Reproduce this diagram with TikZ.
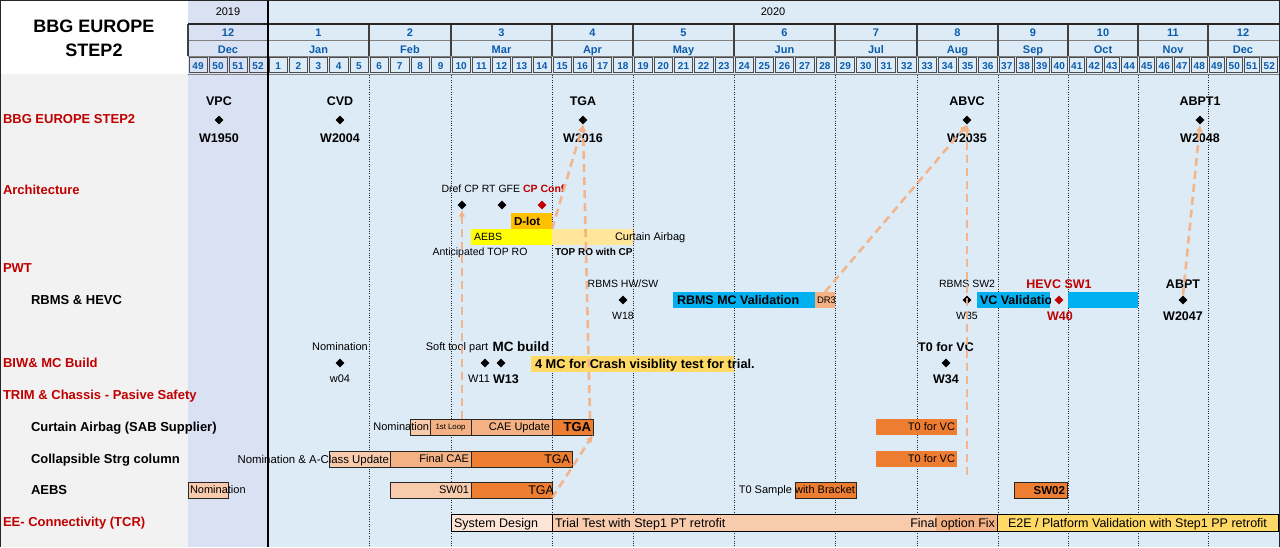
\documentclass[tikz,border=0pt]{standalone}
\usepackage{fontspec}
\setmainfont{Liberation Sans}
\usetikzlibrary{shapes.geometric,arrows.meta,calc}
\definecolor{secred}{HTML}{C00000}
\definecolor{hblue}{HTML}{0B5CAD}
\definecolor{bgtw}{HTML}{DDEBF7}
\definecolor{bgnt}{HTML}{D9E1F2}
\definecolor{leftbg}{HTML}{F2F2F2}
\definecolor{odark}{HTML}{ED7D31}
\definecolor{omid}{HTML}{F4B183}
\definecolor{olight}{HTML}{F8CBAD}
\definecolor{ovlight}{HTML}{FCE4D6}
\definecolor{gold}{HTML}{FFC000}
\definecolor{ylw}{HTML}{FFFF00}
\definecolor{lylw}{HTML}{FFE699}
\definecolor{yorange}{HTML}{FFD966}
\definecolor{cyanbar}{HTML}{00B0F0}
\definecolor{conncol}{HTML}{F4B183}
\newcommand\bx[6]{\node[gbox,#6,minimum width={(#3-#2)*1pt},minimum height={(#5-#4)*1pt}] (#1) at ({(#2+#3)/2},{(#4+#5)/2}) {};}
\begin{document}
\begin{tikzpicture}[x=1pt,y=-1pt,
  fa/.style={inner sep=0pt, outer sep=0pt, text depth=0pt},
  t10/.style={fa, font=\fontsize{10.5}{12}\selectfont, text height=7.5pt},
  t11/.style={fa, font=\fontsize{11}{13}\selectfont, text height=7.9pt},
  t12/.style={fa, font=\fontsize{12.5}{14}\selectfont, text height=9pt},
  b11/.style={fa, font=\fontsize{11.5}{13}\selectfont\bfseries, text height=8.2pt},
  b12/.style={fa, font=\fontsize{12.5}{14}\selectfont\bfseries, text height=9pt},
  b13/.style={fa, font=\fontsize{13}{15}\selectfont\bfseries, text height=9.3pt},
  sec/.style={b13, anchor=west, text=secred},
  sub/.style={b13, anchor=west},
  hd/.style={fa, font=\fontsize{11}{13}\selectfont\bfseries, text=hblue, text height=7.9pt},
  wkt/.style={fa, font=\fontsize{10}{12}\selectfont\bfseries, text=hblue, text height=7.2pt},
  dia/.style={diamond, fill=black, inner sep=0pt, minimum size=9pt},
  gbox/.style={inner sep=0pt, outer sep=0pt},
  bord/.style={draw=black!85, line width=0.7pt},
  conn/.style={draw=conncol, draw opacity=0.92, line width=2.6pt, dash pattern=on 8pt off 5pt, -{Latex[length=7pt,width=7pt]}},
  dotl/.style={black!85, line width=0.7pt, dash pattern=on 0.8pt off 1.6pt}]
\useasboundingbox (0,0) rectangle (1280,547);
% backgrounds
\fill[white] (0,0) rectangle (1280,547);
\fill[leftbg] (0,74) rectangle (188,547);
\fill[bgnt] (188,0) rectangle (268,547);
\fill[bgtw] (268,0) rectangle (1280,547);
% title
\node[fa, font=\fontsize{18}{20}\selectfont\bfseries, text height=12.9pt] (title1) at (94,26) {BBG EUROPE};
\node[fa, font=\fontsize{18}{20}\selectfont\bfseries, text height=12.9pt] (title2) at (94,50.5) {STEP2};
% header
\node[t11] (ynt) at (228,12) {2019};
\node[t11] (ytw) at (773,12) {2020};
\draw[black!50, line width=1pt] (188,40) -- (1279,40);
\draw[black!50, line width=1pt] (188,56) -- (1279,56);
\draw[black!50, line width=0.8pt] (188,74) -- (1279,74);
\foreach \a/\b/\n/\f/\m/\nm in {188/268/4/49/12/Dec, 268/369/5/1/1/Jan, 369/451/4/6/2/Feb, 451/552/5/10/3/Mar, 552/633/4/15/4/Apr, 633/734/5/19/5/May, 734/835/5/24/6/Jun, 835/917/4/29/7/Jul, 917/998/4/33/8/Aug, 998/1068/4/37/9/Sep, 1068/1138/4/41/10/Oct, 1138/1208/4/45/11/Nov, 1208/1278/4/49/12/Dec}{
  \draw[black!75, line width=1.2pt] (\a,24) -- (\a,56);
  \node[hd] (mn\a) at ({(\a+\b)/2},33) {\m};
  \node[hd] (mm\a) at ({(\a+\b)/2},49.5) {\nm};
  \pgfmathsetmacro\w{(\b-\a)/\n}
  \foreach \k in {1,...,\n}{
    \pgfmathsetmacro\xa{\a+(\k-1)*\w}
    \pgfmathtruncatemacro\wk{\f+\k-1}
    \draw[black!70, line width=0.6pt] ({\xa+1},57.5) rectangle ({\xa+\w-1},72.5);
    \node[wkt] (wk\a-\k) at ({\xa+\w/2},65.5) {\wk};
  }
}
\draw[black!85, line width=1.5pt] (188,24) -- (1279,24);
\draw[black, line width=2pt] (268,0) -- (268,547);
% dotted month lines
\foreach \x in {369,451,552,633,734,835,917,998,1068,1138,1208} \draw[dotl] (\x,75) -- (\x,547);
% left labels
\node[sec] (lBBG) at (3,119) {BBG EUROPE STEP2};
\node[sec] (lArch) at (3,190) {Architecture};
\node[sec] (lPWT) at (3,268) {PWT};
\node[sub] (lRBMS) at (31,300) {RBMS \& HEVC};
\node[sec] (lBIW) at (3,363) {BIW\& MC Build};
\node[sec] (lTRIM) at (3,395) {TRIM \& Chassis - Pasive Safety};
\node[sub] (lCAB) at (31,427) {Curtain Airbag (SAB Supplier)};
\node[sub] (lCol) at (31,459) {Collapsible Strg column};
\node[sub] (lAEBS) at (31,490) {AEBS};
\node[sec] (lEE) at (3,522) {EE- Connectivity (TCR)};
% BBG milestones
\foreach \nm/\x/\tp/\bt in {vpc/219/VPC/W1950, cvd/340/CVD/W2004, tga/583/TGA/W2016, abvc/967/ABVC/W2035, abpto/1200/ABPT1/W2048}{
  \node[b12] (\nm-t) at (\x,101) {\tp};
  \node[dia] (\nm-d) at (\x,120) {};
  \node[b12] (\nm-b) at (\x,138) {\bt};
}
% Architecture
\node[t10] (archTxt) at (503,189) {Dref CP RT GFE \textcolor{secred}{\bfseries CP Conf}};
\node[dia] (dref) at (462,205) {};
\node[dia] (rtgfe) at (502,205) {};
\node[dia, fill=secred] (cpconf) at (542,205) {};
\bx{dlot}{511}{552}{213}{229}{fill=gold}
\node[b11, anchor=west] (dlotT) at (514,221) {D-lot};
\bx{archAEBS}{471}{552}{229}{245}{fill=ylw}
\node[t10, anchor=west] (archAEBSt) at (474,237) {AEBS};
\bx{archCAB}{552}{633}{229}{245}{fill=lylw}
\node[t11, anchor=west] (archCABt) at (615,237) {Curtain Airbag};
\node[t10] (antTop) at (480,252) {Anticipated TOP RO};
\node[fa, font=\fontsize{10}{12}\selectfont\bfseries, text height=7.2pt, anchor=west] (topCP) at (555,252) {TOP RO with CP};
% RBMS & HEVC
\node[t10] (rbmsHWt) at (623,284) {RBMS HW/SW};
\node[dia] (rbmsHW) at (623,300) {};
\node[t10] (wEighteen) at (623,316) {W18};
\bx{rbmsMC}{673}{815}{292}{308}{fill=cyanbar}
\node[b12, anchor=west] (rbmsMCt) at (677,300) {RBMS MC Validation};
\bx{dr3}{815}{835}{292}{308}{fill=omid}
\node[fa, font=\fontsize{9.5}{11}\selectfont, text height=6.8pt, anchor=west] (dr3t) at (817,300) {DR3};
\node[t10] (rbmsSW2t) at (967,284) {RBMS  SW2};
\node[dia] (rbmsSW2) at (967,300) {};
\node[t10] (wThirtyFive) at (967,316) {W35};
\bx{vcBar}{977}{1050}{292}{308}{fill=cyanbar}
\begin{scope}
\clip (977,292) rectangle (1050,308);
\node[b12, anchor=west] (vcBarT) at (980,300) {VC Validation};
\end{scope}
\node[b12, text=secred] (hevcT) at (1059,284) {HEVC SW1};
\node[dia, fill=secred] (hevc) at (1059,300) {};
\node[b12, text=secred] (wForty) at (1060,316) {W40};
\bx{vcBarTwo}{1068}{1138}{292}{308}{fill=cyanbar}
\node[b12] (abptT) at (1183,284) {ABPT};
\node[dia] (abpt) at (1183,300) {};
\node[b12] (abptB) at (1183,316) {W2047};
% BIW & MC build
\node[t11] (nomT) at (340,347) {Nomination};
\node[dia] (nomD) at (340,363) {};
\node[t11] (wFour) at (340,379) {w04};
\node[t11] (softT) at (457,347) {Soft tool part};
\node[fa, font=\fontsize{13.5}{15}\selectfont\bfseries, text height=9.7pt] (mcbT) at (521,347) {MC build};
\node[dia] (softD) at (485,363) {};
\node[dia] (mcbD) at (501,363) {};
\node[t11] (wEleven) at (479,379) {W11};
\node[b12] (wThirteen) at (506,379) {W13};
\bx{mcBar}{531}{734}{356}{372}{fill=yorange}
\node[fa, font=\fontsize{12.8}{14}\selectfont\bfseries, text height=9.2pt, anchor=west] (mcBarT) at (535,364) {4 MC for Crash visiblity test for trial.};
\node[b12] (tzvcT) at (946,347) {T0 for VC};
\node[dia] (tzvcD) at (946,363) {};
\node[b12] (wThirtyFour) at (946,379) {W34};
% Curtain Airbag
\bx{cabNom}{410}{430}{419}{435}{fill=olight,bord}
\node[t11, anchor=east] (cabNomT) at (429,427) {Nomination};
\bx{cabLoop}{430}{471}{419}{435}{fill=omid,bord}
\node[fa, font=\fontsize{7.8}{9}\selectfont, text height=5.6pt] (cabLoopT) at (cabLoop) {1st Loop};
\bx{cabCAE}{471}{552}{419}{435}{fill=omid,bord}
\node[t11, anchor=east] (cabCAET) at ([xshift=-2pt]cabCAE.east) {CAE Update};
\bx{cabTGA}{552}{593}{419}{435}{fill=odark,bord}
\node[b13, anchor=east] (cabTGAT) at ([xshift=-2pt]cabTGA.east) {TGA};
\bx{cabTz}{876}{957}{419}{435}{fill=odark}
\node[t11, anchor=east] (cabTzT) at ([xshift=-2pt]cabTz.east) {T0 for VC};
% Collapsible
\bx{colNom}{329}{390}{451}{467}{fill=olight,bord}
\node[fa, font=\fontsize{11.4}{13}\selectfont, text height=8.2pt, anchor=east] (colNomT) at (389,459) {Nomination \& A-Class Update};
\bx{colCAE}{390}{471}{451}{467}{fill=omid,bord}
\node[t11, anchor=east] (colCAET) at ([xshift=-2pt]colCAE.east) {Final CAE};
\bx{colTGA}{471}{572}{451}{467}{fill=odark,bord}
\node[t12, anchor=east] (colTGAT) at ([xshift=-2pt]colTGA.east) {TGA};
\bx{colTz}{876}{957}{451}{467}{fill=odark}
\node[t11, anchor=east] (colTzT) at ([xshift=-2pt]colTz.east) {T0 for VC};
% AEBS
\bx{aebsNom}{188}{228}{482}{498}{fill=olight,bord}
\node[t11, anchor=west] (aebsNomT) at (190,490) {Nomination};
\bx{aebsSW}{390}{471}{482}{498}{fill=olight,bord}
\node[t11, anchor=east] (aebsSWT) at ([xshift=-2pt]aebsSW.east) {SW01};
\bx{aebsTGA}{471}{552}{482}{498}{fill=odark,bord}
\node[t12, anchor=east] (aebsTGAT) at ([xshift=2pt]aebsTGA.east) {TGA};
\bx{aebsTz}{795}{856}{482}{498}{fill=odark,bord}
\node[t11, anchor=east] (aebsTzT) at ([xshift=-1pt]aebsTz.east) {T0 Sample with Bracket};
\bx{aebsSWtwo}{1014}{1067}{482}{498}{fill=odark,bord}
\node[b11, anchor=east] (aebsSWtwoT) at ([xshift=-2pt]aebsSWtwo.east) {SW02};
% EE connectivity
\bx{eeSys}{451}{552}{514}{531}{fill=ovlight,draw=black,line width=0.9pt}
\node[t12, anchor=west] (eeSysT) at (454,522.5) {System Design};
\bx{eeTrial}{552}{997}{514}{531}{fill=olight,draw=black,line width=0.9pt}
\bx{eeFix}{936}{996.5}{514.5}{530.5}{fill=omid}
\node[t12, anchor=west] (eeTrialT) at (555,522.5) {Trial Test with Step1 PT retrofit};
\node[t12, anchor=east] (eeFixT) at (995,522.5) {Final option Fix};
\bx{eeEtoE}{997}{1278}{514}{531}{fill=yorange,draw=black,line width=0.9pt}
\node[t12] (eeEtoET) at (eeEtoE) {E2E / Platform Validation with Step1 PP retrofit};
% outer border
\draw[black!85, line width=1.2pt] (0.6,547) -- (0.6,0.6) -- (1279.4,0.6) -- (1279.4,547);
% dashed connectors
\coordinate (abvcSrc) at (967,475);
\draw[conn] (cabLoop.north -| dref) -- (dref.south);
\draw[conn] (dlot.south east) -- (tga-d.south);
\draw[conn] ([xshift=-3pt]cabTGA.north east) -- (tga-d.south);
\draw[conn] (aebsTGA.south east) -- (cabTGA.south east);
\draw[conn] (dr3.north) -- (abvc-d.south);
\draw[conn] (abvcSrc) -- (abvc-d.south);
\draw[conn] (abpt.north) -- (abpto-d.south);
\end{tikzpicture}
\end{document}
